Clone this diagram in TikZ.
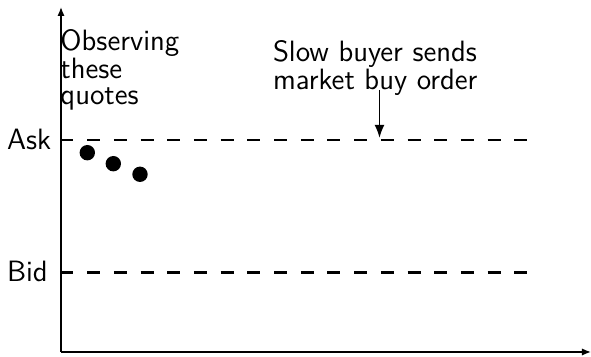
\documentclass[tikz,border=0pt]{standalone}
\usepackage{fontspec}
\usetikzlibrary{arrows.meta}
\begin{document}
\begin{tikzpicture}[x=0.5pt,y=-0.5pt,
  every node/.style={inner sep=0pt, outer sep=0pt, font=\sffamily\fontsize{14.7}{13.2}\selectfont},
  axis/.style={line width=0.7pt, -{Latex[length=4.5pt,width=3.6pt]}},
  level/.style={line width=1.3pt, dash pattern=on 6.5pt off 6.85pt},
  quote/.style={circle, fill=black, minimum size=7.7pt},
  pointer/.style={line width=0.9pt, -{Latex[length=6.5pt,width=5pt]}},
  lbl/.style={anchor=base west}]
  \useasboundingbox (0,0) rectangle (591,357);

  % axes
  \coordinate (origin) at (61,352);
  \coordinate (ytop) at (61,7);
  \coordinate (xend) at (591,352);
  \draw[axis] (origin) -- (ytop);
  \draw[axis] (origin) -- (xend);

  % price levels
  \coordinate (askL) at (60.5,140);
  \coordinate (askR) at (527,140);
  \coordinate (bidL) at (60.5,272.5);
  \coordinate (bidR) at (527,272.5);
  \draw[level] (askL) -- (askR);
  \draw[level] (bidL) -- (bidR);
  \node[lbl] (ask) at (7,150) {Ask};
  \node[lbl] (bid) at (7,282) {Bid};

  % observed quotes
  \node[quote] (q1) at (87.3,152.7) {};
  \node[quote] (q2) at (113.3,163.7) {};
  \node[quote] (q3) at (140,174.3) {};

  % annotations
  \node[anchor=north west, align=left] (obs) at (60.5,29) {Observing\\these\\quotes};
  \node[anchor=north west, align=left] (slow) at (273,40) {Slow buyer sends\\market buy order};
  \coordinate (from) at (379.5,90);
  \coordinate (hit) at (379.5,138);
  \draw[pointer] (from) -- (hit);
\end{tikzpicture}
\end{document}
